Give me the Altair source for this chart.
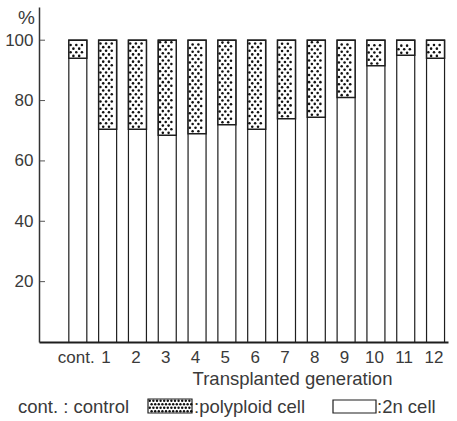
import altair as alt
import pandas as pd

# ---- data ----
categories = ["cont.", "1", "2", "3", "4", "5", "6", "7", "8", "9", "10", "11", "12"]
two_n_pct = [94, 70.5, 70.5, 68.5, 69, 72, 70.5, 74, 74.5, 81, 91.5, 95, 94]
y_tick_values = [20, 40, 60, 80, 100]

# ---- layout / style constants ----
W, H = 409, 335
FONT = "Liberation Sans, Arimo, DejaVu Sans, sans-serif"
TXT = "#3a3a3a"
INK = "#1e1e1e"

bars = pd.DataFrame({
    "cat": categories,
    "two_n": two_n_pct,
    "top": [100] * len(categories),
})

# stipple texture for the polyploid segment, derived from the data values
rows = []
for c, lo in zip(categories, two_n_pct):
    k = 0
    y = lo + 0.8
    while y < 99.4:
        offs = [4.6, 10.4] if k % 2 == 0 else [1.8, 7.5, 13.2]
        for o in offs:
            rows.append({"cat": c, "yv": y, "off": o})
        y += 1.2
        k += 1
dots = pd.DataFrame(rows)

xscale = alt.Scale(domain=categories, paddingInner=0.5, paddingOuter=0.61, align=0.82)
yscale = alt.Scale(domain=[0, 111], nice=False)

x_enc = alt.X(
    "cat:N", sort=categories, scale=xscale,
    axis=alt.Axis(
        labelAngle=0, ticks=False, domainColor=INK, domainWidth=2,
        labelFont=FONT, labelFontSize=17, labelColor=TXT,
        labelBaseline="alphabetic", labelPadding=20,
        title="Transplanted generation", titleFont=FONT, titleFontSize=18.5,
        titleFontWeight="normal", titleColor=TXT, titleX=253, titleY=42,
        titleAlign="center", titleBaseline="alphabetic",
    ),
)
y_axis = alt.Axis(
    values=y_tick_values, ticks=False, grid=False, domainColor="#333", domainWidth=1.5,
    labelFont=FONT, labelFontSize=17, labelColor=TXT, labelPadding=6,
    title="%", titleAngle=0, titleX=-13, titleY=10, titleAlign="center",
    titleBaseline="middle", titleFont=FONT, titleFontSize=19,
    titleFontWeight="normal", titleColor=TXT,
)

base_bar = alt.Chart(bars).mark_bar(fill="white", stroke=INK, strokeWidth=1.2).encode(
    x=x_enc,
    y=alt.Y("top:Q", scale=yscale, axis=y_axis),
)
poly_bar = alt.Chart(bars).mark_bar(fill="white", stroke=INK, strokeWidth=1.5).encode(
    x=alt.X("cat:N", sort=categories, scale=xscale),
    y=alt.Y("two_n:Q", scale=yscale),
    y2="top:Q",
)
dot_layer = alt.Chart(dots).mark_circle(size=6.5, color="#111", opacity=1).encode(
    x=alt.X("cat:N", sort=categories, scale=xscale),
    xOffset=alt.XOffset("off:Q", scale=alt.Scale(domain=[0, 15])),
    y=alt.Y("yv:Q", scale=yscale),
)
ticks = alt.Chart(pd.DataFrame({"t": y_tick_values})).mark_rule(color="#555", strokeWidth=1).encode(
    y=alt.Y("t:Q", scale=yscale),
    x=alt.value(1),
    x2=alt.value(6),
)

main = alt.layer(base_bar, poly_bar, dot_layer, ticks)

# ---- bottom legend (pixel positions relative to plot origin) ----
one = pd.DataFrame({"a": [0]})
def label(txt, x):
    return alt.Chart(one).mark_text(
        text=txt, align="left", baseline="alphabetic",
        font=FONT, fontSize=18.5, color=TXT,
    ).encode(x=alt.value(x), y=alt.value(406))

legend_rows = []
px = 110.8
while px < 153:
    k = 0
    for py in [393.8, 397.3, 400.8, 404.2]:
        shift = 0 if k % 2 == 0 else 1.8
        if px + shift < 152.3:
            legend_rows.append({"px": px + shift, "py": py})
        k += 1
    px += 3.6
leg_dots = pd.DataFrame(legend_rows)

dot_box = alt.Chart(one).mark_rect(fill="white", stroke=INK, strokeWidth=1.2).encode(
    x=alt.value(109), x2=alt.value(153), y=alt.value(392), y2=alt.value(406)
)
dot_box_dots = alt.Chart(leg_dots).mark_circle(size=6, color="#111", opacity=1).encode(
    x=alt.X("px:Q", scale=None, axis=None),
    y=alt.Y("py:Q", scale=None, axis=None),
)
white_box = alt.Chart(one).mark_rect(fill="white", stroke=INK, strokeWidth=1.2).encode(
    x=alt.value(294), x2=alt.value(337), y=alt.value(393), y2=alt.value(406)
)

legend = alt.layer(
    label("cont. : control", -21),
    dot_box, dot_box_dots,
    label(":polyploid cell", 155),
    white_box,
    label(":2n cell", 338),
)

chart = alt.layer(main, legend).resolve_scale(x="independent", y="independent").properties(
    width=W, height=H,
    autosize=alt.AutoSizeParams(type="none"),
    padding={"left": 39, "top": 7, "right": 9, "bottom": 79},
).configure_view(stroke=None)

chart.save("out.html", embed_options={"renderer": "svg", "actions": False})
